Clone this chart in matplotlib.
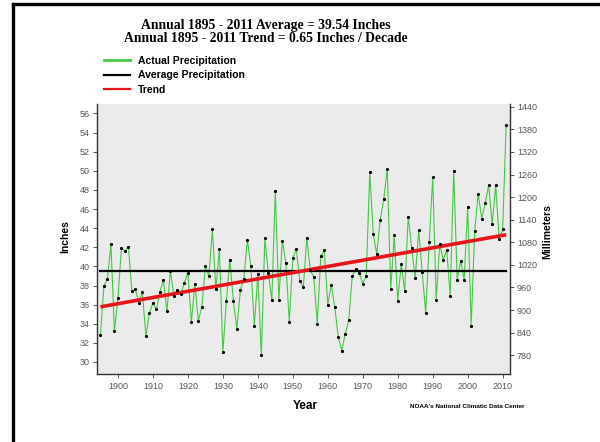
"""
Annual precipitation 1895-2011 with average and trend lines.
"""

import matplotlib
matplotlib.use('Agg')
import matplotlib.pyplot as plt
from matplotlib.lines import Line2D

years = list(range(1895, 2012))
precip = [32.8, 38.0, 38.7, 42.3, 33.2, 36.7, 41.9, 41.6, 42.0, 37.4,   # 1895-1904
          37.6, 36.2, 37.3, 32.7, 35.1, 36.2, 35.5, 37.3, 38.6, 35.3,   # 1905-1914
          39.5, 36.9, 37.5, 37.1, 38.3, 39.3, 34.2, 38.2, 34.3, 35.8,   # 1915-1924
          40.0, 39.0, 43.9, 37.6, 41.8, 31.0, 36.4, 40.7, 36.4, 33.5,   # 1925-1934
          37.5, 38.7, 42.8, 40.0, 33.8, 39.2, 30.7, 43.0, 39.3, 36.5,   # 1935-1944
          47.9, 36.5, 42.7, 40.4, 34.2, 40.9, 41.8, 38.5, 37.8, 43.0,   # 1945-1954
          39.6, 38.9, 34.0, 41.1, 41.7, 36.0, 38.1, 35.7, 32.6, 31.2,   # 1955-1964
          32.9, 34.4, 39.0, 39.7, 39.3, 38.2, 39.0, 49.9, 43.4, 41.3,   # 1965-1974
          44.9, 47.0, 50.2, 37.6, 43.3, 36.4, 40.2, 37.4, 45.2, 41.9,   # 1975-1984
          38.8, 43.8, 39.4, 35.1, 42.5, 49.3, 36.5, 42.3, 40.7, 41.7,   # 1985-1994
          36.9, 50.0, 38.6, 40.6, 38.6, 46.2, 33.8, 43.7, 47.6, 45.0,   # 1995-2004
          46.6, 48.5, 44.4, 48.5, 42.9, 43.9, 54.8]                     # 2005-2011

average = 39.54
trend_years = [1895, 2011]
trend_vals = [35.77, 43.31]

title1 = 'Annual 1895 - 2011 Average = 39.54 Inches'
title2 = 'Annual 1895 - 2011 Trend = 0.65 Inches / Decade'
inch_ticks = list(range(30, 57, 2))
mm_ticks = list(range(780, 1441, 60))
year_ticks = list(range(1900, 2011, 10))

green = '#45c845'
red = '#e8141c'
tick_grey = '#555555'

fig = plt.figure(figsize=(6, 4.42), dpi=100)
ax = fig.add_axes([0.161, 0.154, 0.689, 0.611])
ax.set_facecolor('#ebebeb')

ax.plot(years, precip, color=green, lw=0.8, zorder=2)
ax.plot([years[0], years[-1]], [average, average], color='black', lw=1.6, zorder=3)
ax.plot(trend_years, trend_vals, color=red, lw=2.6, zorder=4, solid_capstyle='butt')
ax.plot(years, precip, 'o', color='black', ms=2.3, mew=0, zorder=5)

ax.set_xlim(1893.9, 2012.1)
ax.set_ylim(28.75, 57.0)
ax.set_xticks(year_ticks)
ax.set_yticks(inch_ticks)

for s in ['top', 'right']:
    ax.spines[s].set_visible(False)
for s in ['left', 'bottom']:
    ax.spines[s].set_color('#333333')
    ax.spines[s].set_linewidth(1.0)
ax.tick_params(axis='both', direction='out', length=3, width=0.7,
               color='#555555', labelcolor=tick_grey, labelsize=6.5, pad=2)
ax.tick_params(axis='x', pad=2.5)
for lab in ax.get_xticklabels() + ax.get_yticklabels():
    lab.set_family('Liberation Sans')

sec = ax.secondary_yaxis('right', functions=(lambda x: x * 25.4, lambda x: x / 25.4))
sec.set_yticks(mm_ticks)
sec.spines['right'].set_color('#333333')
sec.spines['right'].set_linewidth(1.0)
sec.tick_params(direction='out', length=3, width=0.7, color='#555555',
                labelcolor=tick_grey, labelsize=6.5, pad=2)
for lab in sec.get_yticklabels():
    lab.set_family('Liberation Sans')

fig.text(65 / 600, 1 - 237 / 442, 'Inches', rotation=90, ha='center', va='center',
         family='Liberation Sans', weight='bold', fontsize=7.5)
fig.text(547 / 600, 1 - 232 / 442, 'Millimeters', rotation=90, ha='center', va='center',
         family='Liberation Sans', weight='bold', fontsize=7.5)
fig.text(305 / 600, 1 - 406 / 442, 'Year', ha='center', va='center',
         family='Liberation Sans', weight='bold', fontsize=8.5)
fig.text(467 / 600, 1 - 407 / 442, "NOAA's National Climatic Data Center", ha='center',
         va='center', family='Liberation Sans', weight='bold', fontsize=4.6)

fig.text(266 / 600, 1 - 25 / 442, title1, ha='center', va='center',
         family='Liberation Serif', weight='bold', fontsize=9.8)
fig.text(266 / 600, 1 - 38.5 / 442, title2, ha='center', va='center',
         family='Liberation Serif', weight='bold', fontsize=9.8)

handles = [Line2D([], [], color=green, lw=2),
           Line2D([], [], color='black', lw=1.6),
           Line2D([], [], color=red, lw=1.6)]
labels = ['Actual Precipitation', 'Average Precipitation', 'Trend']
fig.legend(handles, labels, loc='upper left', bbox_to_anchor=(104 / 600, 1 - 56 / 442),
           frameon=False, borderpad=0, borderaxespad=0, handlelength=2.5,
           handletextpad=0.8, labelspacing=0.42,
           prop={'family': 'Liberation Sans', 'weight': 'bold', 'size': 7.5})

# frame lines on the left and top edges
fig.add_artist(Line2D([13 / 600, 13 / 600], [0, 1 - 4 / 442], color='black', lw=2.4))
fig.add_artist(Line2D([13 / 600, 1], [1 - 4 / 442, 1 - 4 / 442], color='black', lw=2.4))

fig.savefig('out.png', dpi=100)
